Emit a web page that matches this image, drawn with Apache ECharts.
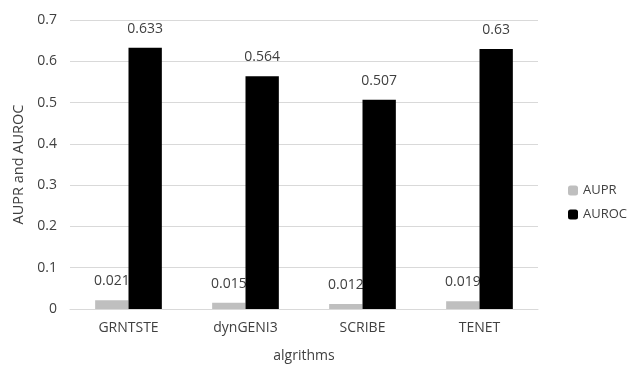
<!DOCTYPE html>
<html><head><meta charset="utf-8">
<script src="https://cdn.jsdelivr.net/npm/echarts@6/dist/echarts.min.js"></script>
<style>html,body{margin:0;padding:0;background:#fff}#c{width:628px;height:368px}</style>
</head><body><div id="c"></div>
<script>
const categories = ['GRNTSTE', 'dynGENI3', 'SCRIBE', 'TENET'];
const aupr = [0.021, 0.015, 0.012, 0.019];
const auroc = [0.633, 0.564, 0.507, 0.63];
const seriesNames = ['AUPR', 'AUROC'];
const xTitle = 'algrithms';
const yTitle = 'AUPR and AUROC';

const font = '"Open Sans", sans-serif';
const txt = '#404040';
const chart = echarts.init(document.getElementById('c'), null, {renderer: 'canvas'});
chart.setOption({
  animation: false,
  textStyle: {fontFamily: font},
  grid: {left: 70, right: 90, top: 20, bottom: 55},
  legend: {
    orient: 'vertical', left: 563, top: 179,
    itemWidth: 10, itemHeight: 10, itemGap: 11,
    textStyle: {fontFamily: font, fontSize: 13, color: txt},
    data: seriesNames
  },
  xAxis: {
    type: 'category', data: categories,
    axisLine: {lineStyle: {color: '#d9d9d9'}},
    axisTick: {show: false},
    axisLabel: {color: txt, fontSize: 14, margin: 12, fontFamily: font},
    name: xTitle, nameLocation: 'middle', nameGap: 40,
    nameTextStyle: {color: txt, fontSize: 14, fontFamily: font}
  },
  yAxis: {
    type: 'value', min: 0, max: 0.7, interval: 0.1,
    axisLine: {show: false}, axisTick: {show: false},
    splitLine: {lineStyle: {color: '#d9d9d9'}},
    axisLabel: {color: txt, fontSize: 14, margin: 13, fontFamily: font,
      formatter: v => (Math.round(v * 10) / 10).toString()},
    name: yTitle, nameLocation: 'middle', nameGap: 43,
    nameTextStyle: {color: txt, fontSize: 14.5, fontFamily: font}
  },
  series: [
    {name: seriesNames[0], type: 'bar', data: aupr, barWidth: '28.5%', barGap: '0%', z: 2,
     itemStyle: {color: '#bfbfbf'},
     label: {show: true, position: 'top', distance: 12, color: txt, fontSize: 14, fontFamily: font}},
    {name: seriesNames[1], type: 'bar', data: auroc, barWidth: '28.5%', z: 3,
     itemStyle: {color: '#000000'},
     label: {show: true, position: 'top', distance: 12, color: txt, fontSize: 14, fontFamily: font}}
  ]
});
</script></body></html>
